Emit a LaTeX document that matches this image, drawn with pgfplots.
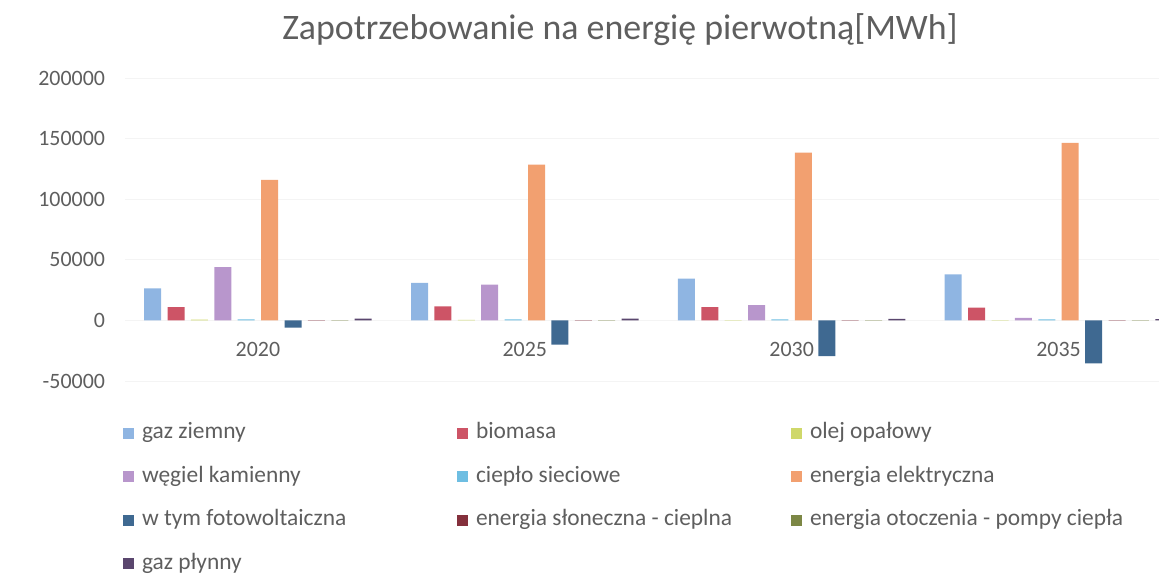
\documentclass[border=0pt]{standalone}
\usepackage{fontspec}
\setmainfont{Carlito}
\usepackage{pgfplots}
\pgfplotsset{compat=1.18}
\definecolor{txt}{HTML}{5E5E5E}
\definecolor{cA}{HTML}{8FB5E2}
\definecolor{cB}{HTML}{CD5466}
\definecolor{cC}{HTML}{CFD86A}
\definecolor{cD}{HTML}{B896CC}
\definecolor{cE}{HTML}{6EBEE2}
\definecolor{cF}{HTML}{F2A070}
\definecolor{cG}{HTML}{3F6991}
\definecolor{cH}{HTML}{84303C}
\definecolor{cI}{HTML}{7C8745}
\definecolor{cJ}{HTML}{5A466E}
\newcommand\LE[1]{\makebox[315bp][l]{#1}}
\begin{document}
\begin{tikzpicture}
\useasboundingbox (0,0) rectangle (1159bp,588bp);
\clip (0,0) rectangle (1159bp,588bp);
\node[font=\fontsize{36}{41}\selectfont, text=txt] at (620bp,558bp) {Zapotrzebowanie na energię pierwotną[MWh]};
\begin{axis}[
  scale only axis, width=1067.5bp, height=303bp,
  at={(124.5bp,207bp)}, anchor=south west,
  xmin=-0.5, xmax=3.5, ymin=-50000, ymax=200000,
  ybar=6.4bp, bar width=17bp,
  axis x line*=middle, axis y line*=left,
  axis line style={draw=none},
  xtick={0,1,2,3}, xticklabels={2020,2025,2030,2035},
  ytick={-50000,0,50000,100000,150000,200000},
  yticklabels={-50000,0,50000,100000,150000,200000},
  ymajorgrids, grid style={gray!9, line width=0.6pt},
  major tick length=0pt,
  tick label style={font=\fontsize{22}{26}\selectfont, text=txt},
  xticklabel style={yshift=-18bp},
  yticklabel style={xshift=-16bp},
  scaled y ticks=false,
  legend columns=3,
  legend cell align=left,
  legend image code/.code={\fill[#1] (0bp,-5.5bp) rectangle (11bp,5.5bp);},
  legend style={draw=none, fill=none, inner sep=0pt, outer sep=0pt,
    at={(-0.0014,-0.137)}, anchor=north west,
    font=\fontsize{23.5}{27}\selectfont, text=txt,
    nodes={inner sep=0pt, text height=16bp, text depth=5bp},
    row sep=22.5bp,
    /tikz/every odd column/.append style={column sep=8bp}},
  every axis plot/.append style={draw=none},
]
\addplot[fill=cA] coordinates {(0,26500) (1,31000) (2,34500) (3,38000)};
\addlegendentry{\LE{gaz ziemny}}
\addplot[fill=cB] coordinates {(0,11000) (1,11500) (2,11000) (3,10500)};
\addlegendentry{\LE{biomasa}}
\addplot[fill=cC] coordinates {(0,700) (1,400) (2,300) (3,200)};
\addlegendentry{\LE{olej opałowy}}
\addplot[fill=cD] coordinates {(0,44000) (1,29500) (2,12500) (3,2000)};
\addlegendentry{\LE{węgiel kamienny}}
\addplot[fill=cE] coordinates {(0,800) (1,800) (2,800) (3,800)};
\addlegendentry{\LE{ciepło sieciowe}}
\addplot[fill=cF] coordinates {(0,116000) (1,128500) (2,138500) (3,146500)};
\addlegendentry{\LE{energia elektryczna}}
\addplot[fill=cG] coordinates {(0,-6000) (1,-20000) (2,-29500) (3,-35500)};
\addlegendentry{\LE{w tym fotowoltaiczna}}
\addplot[fill=cH] coordinates {(0,200) (1,200) (2,200) (3,200)};
\addlegendentry{\LE{energia słoneczna - cieplna}}
\addplot[fill=cI] coordinates {(0,300) (1,300) (2,300) (3,300)};
\addlegendentry{\LE{energia otoczenia - pompy ciepła}}
\addplot[fill=cJ] coordinates {(0,1500) (1,1500) (2,1200) (3,1000)};
\addlegendentry{\LE{gaz płynny}}
\end{axis}
\end{tikzpicture}
\end{document}
